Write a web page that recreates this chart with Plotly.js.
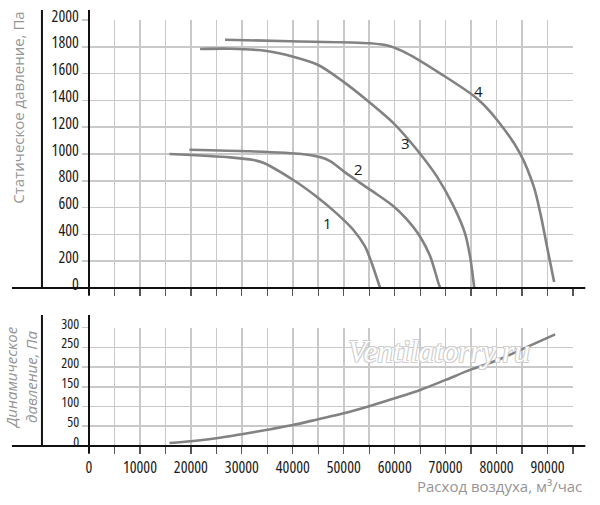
<!DOCTYPE html>
<html>
<head>
<meta charset="utf-8">
<script src="https://cdn.plot.ly/plotly-3.0.1.min.js"></script>
<style>
html,body{margin:0;padding:0;background:#fff;}
#chart{width:600px;height:505px;}
#chart .xtick text, #chart .ytick text, #chart .x2tick text, #chart .y2tick text { font-stretch: 75%; }
</style>
</head>
<body>
<div id="chart"></div>
<script>
// Static pressure curves (flow m3/h, pressure Pa)
const flow1 = [15800, 27700, 32300, 34200, 40100, 44700, 48600, 51900, 54200, 55500, 57100];
const pres1 = [1000, 975, 955, 935, 806, 681, 557, 433, 308, 185, 5];
const flow2 = [19700, 31600, 41700, 45500, 47400, 50000, 53200, 56500, 59700, 62300, 65000, 67000, 68600, 68900];
const pres2 = [1032, 1020, 1000, 975, 945, 870, 785, 700, 612, 516, 383, 234, 35, 5];
const flow3 = [21800, 27700, 34900, 40100, 45000, 49900, 54500, 59800, 64400, 68300, 71600, 73800, 74800, 75300, 75600];
const pres3 = [1784, 1786, 1769, 1726, 1664, 1540, 1403, 1229, 1030, 831, 607, 408, 234, 100, 5];
const flow4 = [26700, 39500, 55200, 59100, 62400, 68900, 76100, 80100, 84600, 87300, 88600, 89900, 91300];
const pres4 = [1853, 1841, 1826, 1804, 1751, 1602, 1416, 1254, 1005, 756, 557, 308, 45];
// Dynamic pressure curve
const flowD = [15800, 20000, 25000, 30000, 35000, 40000, 45000, 50000, 55000, 60000, 65000, 69900, 74800, 80000, 84600, 91500];
const presD = [7.5, 12, 19.5, 30, 41, 53, 68, 83, 101, 121, 142, 167, 193, 217, 243, 283];
// Curve labels
const labelText = ["1", "2", "3", "4"];
const labelX = [46900, 52900, 62100, 76500];
const labelY = [487, 888, 1080, 1470];
// Ticks
const xTickVals = [0, 10000, 20000, 30000, 40000, 50000, 60000, 70000, 80000, 90000];
const staticTicks = [0, 200, 400, 600, 800, 1000, 1200, 1400, 1600, 1800, 2000];
const dynamicTicks = [0, 50, 100, 150, 200, 250, 300];

const curveColor = '#828282';
const gridColor = '#c9c9c9';
const tickFamily = '"Open Sans", "Noto Sans", sans-serif';
const tickFont = {family: tickFamily, size: 16, color: '#1a1a1a'};
const tickFontSmall = {family: tickFamily, size: 14, color: '#1a1a1a'};
const titleFont = {family: '"Open Sans", "Noto Sans", sans-serif', size: 15, color: '#959595'};

function curve(x, y, xa, ya) {
  return {x: x, y: y, xaxis: xa, yaxis: ya, type: 'scatter', mode: 'lines',
    line: {color: curveColor, width: 2.6, shape: 'spline', smoothing: 0.8},
    hoverinfo: 'skip', showlegend: false};
}

const data = [
  curve(flow1, pres1, 'x', 'y'),
  curve(flow2, pres2, 'x', 'y'),
  curve(flow3, pres3, 'x', 'y'),
  curve(flow4, pres4, 'x', 'y'),
  curve(flowD, presD, 'x2', 'y2')
];

const xBase = {
  range: [0, 95000], tickvals: xTickVals, tickformat: 'd', showgrid: true, gridcolor: gridColor, gridwidth: 1.6,
  zeroline: false, showline: false, ticks: 'outside', ticklen: 7, tickwidth: 1.3, tickcolor: '#555',
  minor: {dtick: 5000, tick0: 0, showgrid: true, gridcolor: gridColor, gridwidth: 1.6, ticks: 'outside', ticklen: 7, tickwidth: 1.3, tickcolor: '#555'},
  tickfont: tickFont, fixedrange: true
};
const yBase = {
  showgrid: true, gridcolor: gridColor, gridwidth: 1.6, zeroline: false, showline: false,
  ticks: 'outside', ticklen: 6, tickwidth: 1.6, tickcolor: gridColor, tickfont: tickFont,
  ticklabelshift: -4, fixedrange: true
};

const shapeLine = {type: 'line', xref: 'paper', yref: 'paper', line: {color: '#111', width: 2}};
function ln(x0, y0, x1, y1) { return Object.assign({}, shapeLine, {x0: x0, y0: y0, x1: x1, y1: y1}); }

const annotations = labelText.map((t, i) => ({
  x: labelX[i], y: labelY[i], xref: 'x', yref: 'y', text: t, showarrow: false,
  font: {family: tickFamily, size: 15, color: '#1a1a1a'}
}));
annotations.push({
  xref: 'paper', yref: 'paper', x: 1.022, y: -0.094, xanchor: 'right', yanchor: 'middle',
  text: 'Расход воздуха, м³/час', showarrow: false, font: titleFont
});
annotations.push({
  xref: 'paper', yref: 'paper', x: -0.146, y: 0.795, xanchor: 'center', yanchor: 'middle',
  text: 'Статическое давление, Па', textangle: -90, showarrow: false, font: titleFont
});
annotations.push({
  xref: 'paper', yref: 'paper', x: -0.14, y: 0.16, xanchor: 'center', yanchor: 'middle',
  text: 'Динамическое<br>давление, Па', textangle: -90, showarrow: false,
  font: {family: titleFont.family, size: 15, color: '#959595', style: 'italic'}
});
annotations.push({
  xref: 'paper', yref: 'paper', x: 0.7236, y: 0.223, xanchor: 'center', yanchor: 'middle',
  text: 'Ventilatorry.ru', showarrow: false,
  font: {family: '"Liberation Serif", serif', size: 31, color: '#ffffff', style: 'italic',
    shadow: '1px 1px 0 #cfcfcf, -1px -1px 0 #cfcfcf, 1px -1px 0 #cfcfcf, -1px 1px 0 #cfcfcf'}
});

const layout = {
  width: 600, height: 505,
  margin: {l: 89, r: 27.3, t: 20, b: 59},
  paper_bgcolor: '#ffffff', plot_bgcolor: '#ffffff',
  showlegend: false,
  xaxis: Object.assign({}, xBase, {anchor: 'y', showticklabels: false}),
  yaxis: Object.assign({}, yBase, {domain: [0.3709, 1], range: [0, 2000], tickvals: staticTicks}),
  xaxis2: Object.assign({}, xBase, {anchor: 'y2'}),
  yaxis2: Object.assign({}, yBase, {domain: [0, 0.2777], range: [0, 300], tickvals: dynamicTicks, tickfont: tickFontSmall}),
  shapes: [
    ln(-0.1592, 0.3709, 1.0254, 0.3709),
    ln(0, 1.0235, 0, 0.3545),
    ln(-0.0972, 1.0235, -0.0972, 0.3709),
    ln(-0.1592, 0, 1.0254, 0),
    ln(0, 0.3075, 0, -0.0164),
    ln(-0.0972, 0.3075, -0.0972, 0)
  ],
  annotations: annotations
};

Plotly.newPlot('chart', data, layout, {staticPlot: true, displayModeBar: false});
</script>
</body>
</html>
